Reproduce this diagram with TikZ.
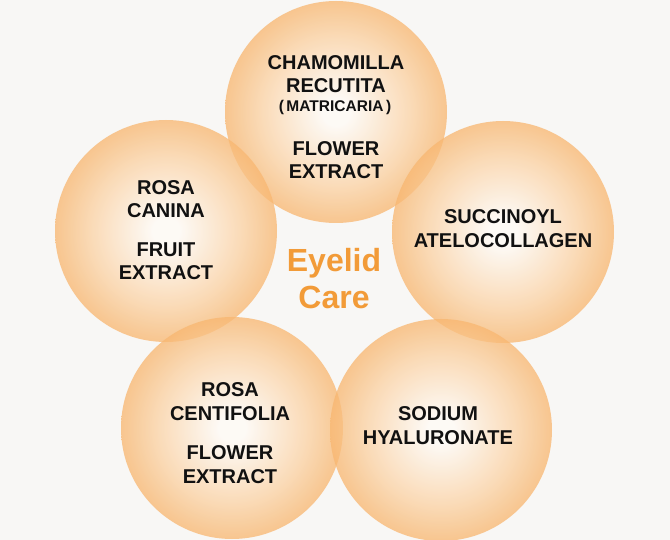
\documentclass[tikz,border=0pt]{standalone}
\usepackage{fontspec}
\setmainfont{Liberation Sans}
\definecolor{bgc}{HTML}{F8F7F5}
\definecolor{ctrc}{HTML}{FFFBF6}
\definecolor{midc}{HTML}{FBD2A4}
\definecolor{edgec}{HTML}{F3942F}
\definecolor{eyec}{HTML}{F29B38}
\definecolor{txtc}{HTML}{111111}
\pgfdeclareradialshading{ballshade}{\pgfpoint{0bp}{0bp}}{color(0bp)=(ctrc); color(3bp)=(ctrc); color(17bp)=(midc); color(35.3bp)=(edgec); color(50bp)=(edgec)}
\tikzset{
  ball/.style={shading=ballshade, fill opacity=0.77, draw=none},
  lbl/.style={anchor=base, inner sep=0pt, font=\bfseries\fontsize{20}{24}\selectfont, text=txtc},
  sublbl/.style={anchor=base, inner sep=0pt, font=\bfseries\fontsize{15.5}{18}\selectfont, text=txtc},
  title/.style={anchor=base, inner sep=0pt, font=\bfseries\fontsize{32}{37}\selectfont, text=eyec}
}
\begin{document}
\begin{tikzpicture}[x=1pt,y=-1pt]
\fill[bgc] (0,0) rectangle (670,540);
\useasboundingbox (0,0) rectangle (670,540);
\shade[ball] (336,112) circle (111);
\shade[ball] (166,231) circle (111);
\shade[ball] (503,232) circle (111);
\shade[ball] (232,428) circle (111);
\shade[ball] (441,430) circle (111);
% top
\node[lbl] (t1) at (336,70) {CHAMOMILLA};
\node[lbl] (t2) at (336,93) {RECUTITA};
\node[sublbl] (t3) at (335,112) {(\,MATRICARIA\,)};
\node[lbl] (t4) at (336,156) {FLOWER};
\node[lbl] (t5) at (336,179) {EXTRACT};
% left
\node[lbl] (l1) at (166,195) {ROSA};
\node[lbl] (l2) at (166,218) {CANINA};
\node[lbl] (l3) at (166,257) {FRUIT};
\node[lbl] (l4) at (166,280) {EXTRACT};
% right
\node[lbl] (r1) at (503,224) {SUCCINOYL};
\node[lbl] (r2) at (503,248) {ATELOCOLLAGEN};
% bottom left
\node[lbl] (b1) at (230,396) {ROSA};
\node[lbl] (b2) at (230,420) {CENTIFOLIA};
\node[lbl] (b3) at (230,459) {FLOWER};
\node[lbl] (b4) at (230,483) {EXTRACT};
% bottom right
\node[lbl] (s1) at (438,420) {SODIUM};
\node[lbl] (s2) at (438,444) {HYALURONATE};
% centre
\node[title] (e1) at (334,272) {Eyelid};
\node[title] (e2) at (334,309) {Care};
\end{tikzpicture}
\end{document}
